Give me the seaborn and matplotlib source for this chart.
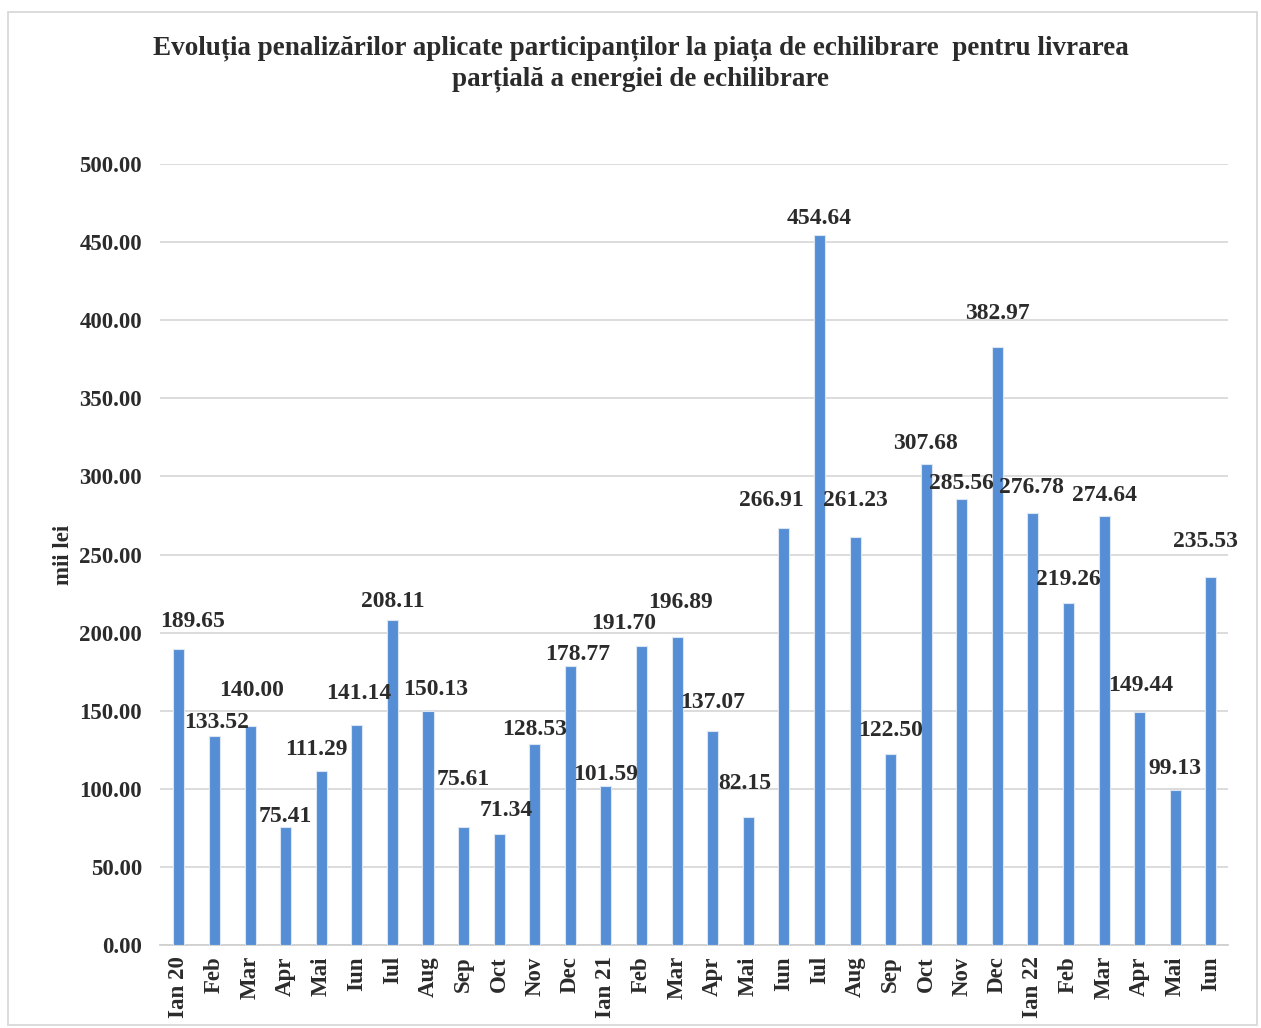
import matplotlib.pyplot as plt
import numpy as np
import pandas as pd
import seaborn as sns
from matplotlib.patches import Rectangle

months = [
    "Ian 20", "Feb", "Mar", "Apr", "Mai", "Iun", "Iul", "Aug", "Sep", "Oct",
    "Nov", "Dec", "Ian 21", "Feb", "Mar", "Apr", "Mai", "Iun", "Iul", "Aug",
    "Sep", "Oct", "Nov", "Dec", "Ian 22", "Feb", "Mar", "Apr", "Mai", "Iun",
]
values = [
    189.65, 133.52, 140.00, 75.41, 111.29, 141.14, 208.11, 150.13, 75.61, 71.34,
    128.53, 178.77, 101.59, 191.70, 196.89, 137.07, 82.15, 266.91, 454.64, 261.23,
    122.50, 307.68, 285.56, 382.97, 276.78, 219.26, 274.64, 149.44, 99.13, 235.53,
]
y_ticks = [0, 50, 100, 150, 200, 250, 300, 350, 400, 450, 500]

# label offsets in pixels, the original labels were placed by hand
label_dx = [14, 2, 2, 0, -5, 2, 0, 8, 0, 7, 0, 7, 0, -18, 3,
            0, -3, -12, 0, 0, 0, -1, 0, 0, -2, 0, 0, 1, 0, -5]
label_dy = [27, 14, 36, 11, 22, 31, 18, 21, 47, 23, 15, 11, 12, 22, 35,
            28, 33, 28, 16, 36, 23, 21, 15, 33, 25, 23, 21, 26, 22, 36]

BAR_COLOR = "#558ED5"
TEXT_COLOR = "#2b2b2b"

sns.set_theme(style="white")
plt.rcParams["font.family"] = ["Liberation Serif", "DejaVu Serif"]
plt.rcParams["font.weight"] = "bold"

df = pd.DataFrame({"pos": np.arange(len(values)), "value": values})

fig = plt.figure(figsize=(12.61, 10.28), dpi=100)
ax = fig.add_axes([0.1269, 0.0807, 0.8469, 0.7598])

sns.barplot(data=df, x="pos", y="value", color=BAR_COLOR, saturation=1,
            width=0.31, edgecolor="#dce6f2", linewidth=0.8, ax=ax, zorder=3)

ax.set_ylim(0, 500)
ax.set_xlim(-0.53, 29.48)
ax.set_yticks(y_ticks)
ax.set_yticklabels([f"{t:.2f}" for t in y_ticks], fontsize=16.5,
                   fontweight="bold", color=TEXT_COLOR)
ax.set_xticks(range(len(months)))
ax.set_xticklabels(months, rotation=90, fontsize=16.5, fontweight="bold",
                   color=TEXT_COLOR)
ax.tick_params(axis="y", length=0, pad=13)
ax.tick_params(axis="x", length=0, pad=8)
ax.yaxis.grid(True, color="#d9d9d9", linewidth=1.3, zorder=0)
ax.set_axisbelow(True)
for side in ["top", "right", "left"]:
    ax.spines[side].set_visible(False)
ax.spines["bottom"].set_color("#d0d0d0")
ax.spines["bottom"].set_linewidth(1.3)
ax.set_xlabel("")
ax.set_ylabel("mii lei", fontsize=16.5, fontweight="bold", color=TEXT_COLOR,
              labelpad=4)

for i, v in enumerate(values):
    ax.annotate(f"{v:.2f}", xy=(i, v), xytext=(label_dx[i], label_dy[i]),
                textcoords="offset pixels", ha="center", va="center",
                fontsize=17, fontweight="bold", color=TEXT_COLOR, zorder=4)

fig.text(0.508, 0.953,
         "Evoluția penalizărilor aplicate participanților la piața de echilibrare  pentru livrarea",
         ha="center", va="center", fontsize=19.5, fontweight="bold", color=TEXT_COLOR)
fig.text(0.508, 0.923, "parțială a energiei de echilibrare",
         ha="center", va="center", fontsize=19.5, fontweight="bold", color=TEXT_COLOR)

fig.patches.append(Rectangle((0.006, 0.003), 0.991, 0.985, transform=fig.transFigure,
                             fill=False, edgecolor="#d9d9d9", linewidth=1.3))

fig.savefig("out.png", dpi=100, facecolor="white")
